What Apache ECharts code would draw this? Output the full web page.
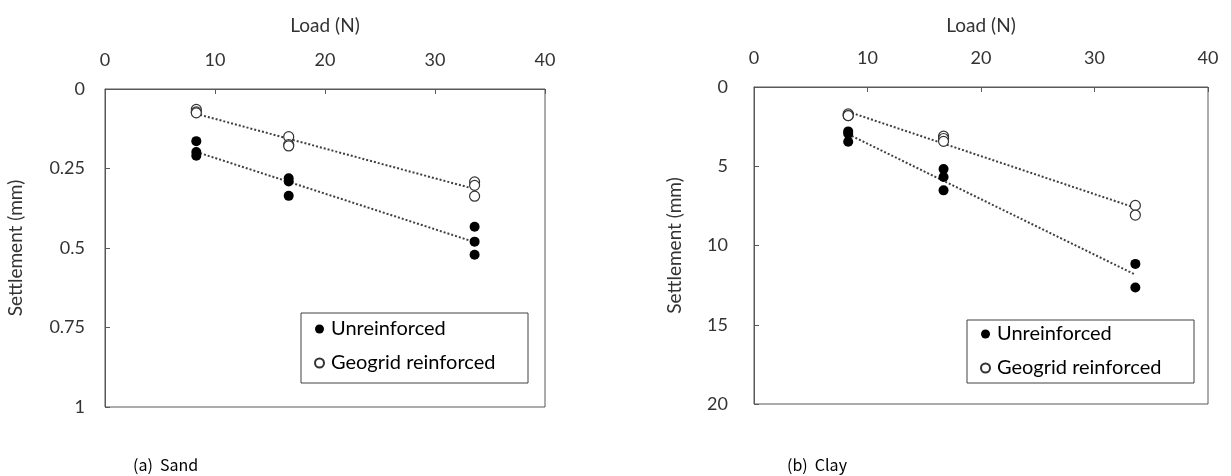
<!DOCTYPE html>
<html>
<head>
<meta charset="utf-8">
<script src="https://cdn.jsdelivr.net/npm/echarts@6/dist/echarts.min.js"></script>
<style>
html,body{margin:0;padding:0;background:#fff;}
#chart{width:1231px;height:476px;}
</style>
</head>
<body>
<div id="chart"></div>
<script>
// ---- data ----
const xTicks = [0, 10, 20, 30, 40];
const sandYTicks = [0, 0.25, 0.5, 0.75, 1];
const clayYTicks = [0, 5, 10, 15, 20];

const sandLoadU = [8.3, 8.3, 8.3, 16.7, 16.7, 16.7, 33.6, 33.6, 33.6];
const sandUnreinforced = [0.164, 0.198, 0.21, 0.281, 0.291, 0.336, 0.433, 0.48, 0.521];
const sandLoadG = [8.3, 8.3, 8.3, 16.7, 16.7, 16.7, 33.6, 33.6, 33.6];
const sandGeogrid = [0.064, 0.072, 0.075, 0.15, 0.175, 0.179, 0.292, 0.303, 0.337];

const clayLoadU = [8.3, 8.3, 8.3, 16.7, 16.7, 16.7, 33.6, 33.6];
const clayUnreinforced = [2.8, 2.95, 3.45, 5.18, 5.68, 6.52, 11.16, 12.65];
const clayLoadG = [8.3, 8.3, 8.3, 16.7, 16.7, 16.7, 33.6, 33.6];
const clayGeogrid = [1.7, 1.8, 1.8, 3.1, 3.25, 3.43, 7.47, 8.08];

const nameU = 'Unreinforced';
const nameG = 'Geogrid reinforced';

// ---- helpers ----
function pairs(xs, ys) { return xs.map((x, i) => [x, ys[i]]); }
function trend(xs, ys) {
  const n = xs.length;
  const mx = xs.reduce((a, b) => a + b, 0) / n;
  const my = ys.reduce((a, b) => a + b, 0) / n;
  let sxy = 0, sxx = 0;
  for (let i = 0; i < n; i++) { sxy += (xs[i] - mx) * (ys[i] - my); sxx += (xs[i] - mx) ** 2; }
  const b = sxy / sxx, a = my - b * mx;
  const x0 = Math.min(...xs), x1 = Math.max(...xs);
  return [[x0, a + b * x0], [x1, a + b * x1]];
}

const FONT = 'Lato';
const TXT = '#333';
const AX = '#595959';
const FS = 18;

function xAxisCfg(gi, gap) {
  return {
    gridIndex: gi, type: 'value', position: 'top', min: 0, max: 40, interval: 10,
    name: 'Load (N)', nameLocation: 'middle', nameGap: gap,
    nameTextStyle: { fontFamily: FONT, fontSize: FS + 1, color: TXT },
    axisLine: { show: true, lineStyle: { color: AX, width: 1 } },
    axisTick: { show: true, inside: true, length: 5, lineStyle: { color: AX } },
    axisLabel: { fontFamily: FONT, fontSize: FS, color: TXT, margin: 20,
      formatter: v => xTicks.includes(v) ? String(v) : '' },
    splitLine: { show: false }
  };
}
function yAxisCfg(gi, max, interval, ticks, gap, margin) {
  return {
    gridIndex: gi, type: 'value', inverse: true, min: 0, max: max, interval: interval,
    name: 'Settlement (mm)', nameLocation: 'middle', nameGap: gap, nameRotate: 90,
    nameTextStyle: { fontFamily: FONT, fontSize: FS + 1, color: TXT },
    axisLine: { show: true, lineStyle: { color: AX, width: 1 } },
    axisTick: { show: true, inside: true, length: 5, lineStyle: { color: AX } },
    axisLabel: { fontFamily: FONT, fontSize: FS, color: TXT, margin: margin,
      formatter: v => { const t = ticks.find(k => Math.abs(k - v) < 1e-9); return t === undefined ? '' : String(t); } },
    splitLine: { show: false }
  };
}

function scatter(name, data, gi, filled) {
  return {
    type: 'scatter', name: name, xAxisIndex: gi, yAxisIndex: gi, data: data,
    symbol: 'circle', symbolSize: 10, z: 3,
    itemStyle: filled ? { color: '#000', borderColor: '#000', borderWidth: 0, opacity: 1 }
                      : { color: '#fff', borderColor: '#333', borderWidth: 1.2, opacity: 1 }
  };
}
function trendLine(data, gi) {
  return {
    type: 'line', xAxisIndex: gi, yAxisIndex: gi, data: data, symbol: 'none', silent: true, z: 2,
    lineStyle: { color: '#404040', width: 2, type: [2, 2] }
  };
}

const legendCommon = {
  orient: 'vertical', data: [nameU, nameG], icon: 'circle', itemWidth: 9, itemHeight: 9, itemGap: 14,
  padding: 0,
  textStyle: { fontFamily: FONT, fontSize: 20, color: '#000', padding: [0, 0, 0, 2] }
};

const chart = echarts.init(document.getElementById('chart'), null, { renderer: 'canvas' });
chart.setOption({
  backgroundColor: '#fff',
  animation: false,
  grid: [
    { left: 105, top: 89, width: 440, height: 318, show: true, borderColor: AX, borderWidth: 1, backgroundColor: 'transparent' },
    { left: 754, top: 87, width: 454, height: 317, show: true, borderColor: AX, borderWidth: 1, backgroundColor: 'transparent' }
  ],
  xAxis: [xAxisCfg(0, 54), xAxisCfg(1, 52)],
  yAxis: [yAxisCfg(0, 1, 0.25, sandYTicks, 80, 20), yAxisCfg(1, 20, 5, clayYTicks, 70, 26)],
  legend: [
    Object.assign({}, legendCommon, { left: 314, top: 319 }),
    Object.assign({}, legendCommon, { left: 980, top: 324 })
  ],
  graphic: [
    { type: 'rect', shape: { x: 301, y: 313, width: 227, height: 70 }, style: { fill: 'none', stroke: '#404040', lineWidth: 1 }, z: 1 },
    { type: 'rect', shape: { x: 967, y: 320, width: 227, height: 63 }, style: { fill: 'none', stroke: '#404040', lineWidth: 1 }, z: 1 }
  ],
  title: [
    { text: '(a)  Sand', left: 133, top: 457, padding: 0, textStyle: { fontFamily: 'Noto Sans CJK KR', fontSize: 16, fontWeight: 'normal', color: '#000' } },
    { text: '(b)  Clay', left: 787, top: 457, padding: 0, textStyle: { fontFamily: 'Noto Sans CJK KR', fontSize: 16, fontWeight: 'normal', color: '#000' } }
  ],
  series: [
    trendLine(trend(sandLoadU, sandUnreinforced), 0),
    trendLine(trend(sandLoadG, sandGeogrid), 0),
    scatter(nameU, pairs(sandLoadU, sandUnreinforced), 0, true),
    scatter(nameG, pairs(sandLoadG, sandGeogrid), 0, false),
    trendLine(trend(clayLoadU, clayUnreinforced), 1),
    trendLine(trend(clayLoadG, clayGeogrid), 1),
    scatter(nameU, pairs(clayLoadU, clayUnreinforced), 1, true),
    scatter(nameG, pairs(clayLoadG, clayGeogrid), 1, false)
  ]
});
</script>
</body>
</html>
